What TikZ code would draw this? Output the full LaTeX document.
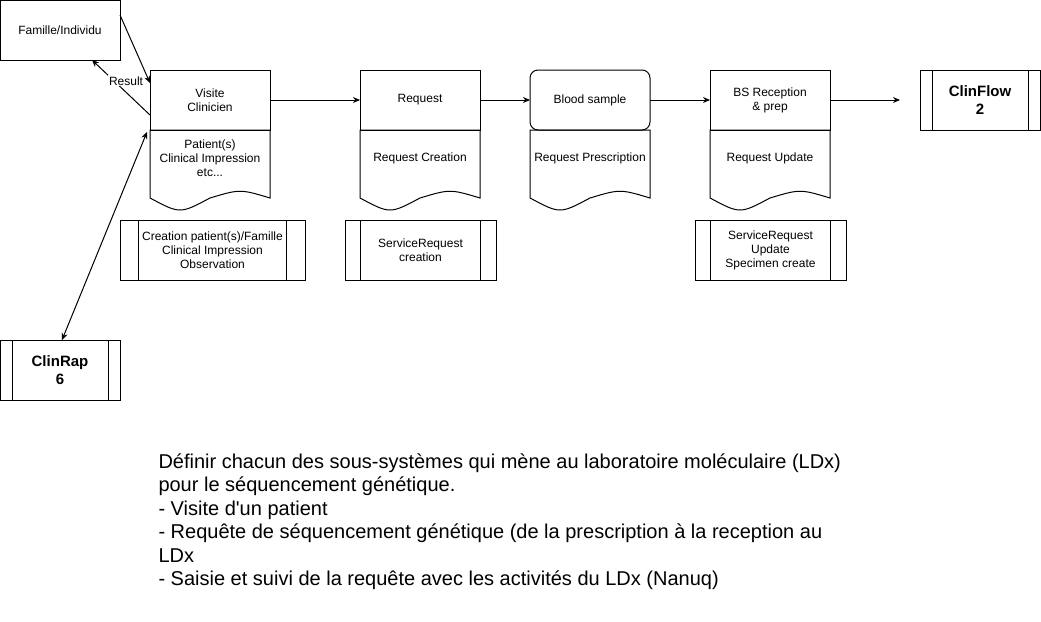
\documentclass[tikz,border=0pt]{standalone}
\usepackage{fontspec}
\setmainfont{Liberation Sans}
\newfontfamily\helv{Liberation Sans}
\usetikzlibrary{positioning}
\usetikzlibrary{calc}
\usetikzlibrary{arrows.meta}

\tikzset{
    box/.style={rectangle,draw,line width=1pt,minimum width=120pt,minimum height=60pt,
        align=center,inner sep=2pt,outer sep=0pt,font=\helv\fontsize{12}{14}\selectfont},
    subbox/.style={box,path picture={
        \draw[line width=1pt] ($(path picture bounding box.north west)!0.1!(path picture bounding box.north east)$)
            -- ($(path picture bounding box.south west)!0.1!(path picture bounding box.south east)$);
        \draw[line width=1pt] ($(path picture bounding box.north west)!0.9!(path picture bounding box.north east)$)
            -- ($(path picture bounding box.south west)!0.9!(path picture bounding box.south east)$);}},
    docbox/.style={rectangle,minimum width=120pt,minimum height=56pt,align=center,
        inner sep=2pt,outer sep=0pt,font=\helv\fontsize{12}{14}\selectfont},
    bigbold/.style={font=\helv\bfseries\fontsize{15}{18}\selectfont}
}

\begin{document}
\begin{tikzpicture}[x=1pt,y=-1pt,>={Stealth[length=7pt,width=6pt]},line width=1pt]
        \useasboundingbox (0,0) rectangle (1041,621);

        \node[box] (fam) at (60,30) {Famille/Individu};

        \node[box] (visH) at (210,100) {Visite\\Clinicien};
        \node[docbox,below=0pt of visH] (visD) {Patient(s)\\Clinical Impression\\etc...};
        \node[box] (reqH) at (420,100) {Request};
        \node[docbox,below=0pt of reqH] (reqD) {Request Creation};
        \node[box,rounded corners=8pt] (bsH) at (590,100) {Blood sample};
        \node[docbox,below=0pt of bsH] (bsD) {Request Prescription};
        \node[box] (recH) at (770,100) {BS Reception\\\& prep};
        \node[docbox,below=0pt of recH] (recD) {Request Update};
        \node[subbox,bigbold] (flow) at (980,100) {ClinFlow\\2};

        \node[subbox,minimum width=185pt] (crea) at (212.5,250) {Creation patient(s)/Famille\\Clinical Impression\\Observation};
        \node[subbox,minimum width=151pt] (srC) at (420.5,250) {ServiceRequest\\creation};
        \node[subbox,minimum width=151pt] (srU) at (770.5,250) {ServiceRequest\\Update\\Specimen create};
        \node[subbox,bigbold] (rap) at (60,370) {ClinRap\\6};

        % document outlines
        \foreach \d in {visD,reqD,bsD,recD}
            \draw (\d.north west) -- (\d.north east) -- ([yshift=-12pt]\d.south east)
                .. controls ([xshift=-30pt,yshift=-3pt]\d.south east) .. ([yshift=-12pt]\d.south)
                .. controls ([xshift=30pt,yshift=-28pt]\d.south west) .. ([yshift=-12pt]\d.south west) -- cycle;

        \draw[->] ([yshift=15pt]fam.east) -- ([yshift=17pt]visH.west);
        \draw[->] ([yshift=-15pt]visH.west) -- node[pos=0.62,xshift=12pt,fill=white,inner sep=1pt,
            font=\helv\fontsize{12}{14}\selectfont] (res) {Result} ([xshift=32pt]fam.south);
        \draw[<->] ([xshift=2pt]rap.north) -- ([xshift=-3pt,yshift=-2pt]visD.north west);

        \draw[->] (visH.east) -- (reqH.west);
        \draw[->] (reqH.east) -- (bsH.west);
        \draw[->] (bsH.east) -- (recH.west);
        \draw[->,shorten >=20pt] (recH.east) -- (flow.west);

        \node[anchor=north west,inner sep=0pt,align=left,font=\helv\fontsize{20}{23.5}\selectfont] (txt) at (158,453)
            {Définir chacun des sous-systèmes qui mène au laboratoire moléculaire (LDx)\\
            pour le séquencement génétique.\\
            - Visite d'un patient\\
            - Requête de séquencement génétique (de la prescription à la reception au\\
            LDx\\
            - Saisie et suivi de la requête avec les activités du LDx (Nanuq)};

    \end{tikzpicture}
\end{document}
